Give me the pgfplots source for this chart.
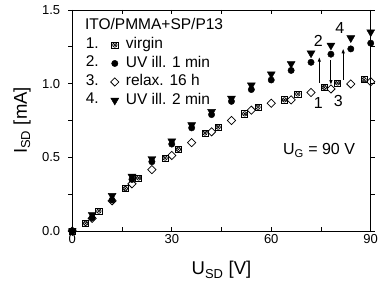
\documentclass[border=0pt]{standalone}
\usepackage{pgfplots}
\pgfplotsset{compat=1.18}
\usepackage{fontspec}
\setmainfont{Liberation Sans}
\usetikzlibrary{arrows.meta}

\pgfdeclareplotmark{boxotimes}{%
  \pgfpathrectangle{\pgfqpoint{-\pgfplotmarksize}{-\pgfplotmarksize}}{\pgfqpoint{2\pgfplotmarksize}{2\pgfplotmarksize}}%
  \pgfusepathqstroke
  \pgfpathcircle{\pgfpointorigin}{0.72\pgfplotmarksize}%
  \pgfusepathqstroke
  \pgfpathmoveto{\pgfqpoint{-0.5\pgfplotmarksize}{-0.5\pgfplotmarksize}}%
  \pgfpathlineto{\pgfqpoint{0.5\pgfplotmarksize}{0.5\pgfplotmarksize}}%
  \pgfpathmoveto{\pgfqpoint{-0.5\pgfplotmarksize}{0.5\pgfplotmarksize}}%
  \pgfpathlineto{\pgfqpoint{0.5\pgfplotmarksize}{-0.5\pgfplotmarksize}}%
  \pgfusepathqstroke
}

\begin{document}
\begin{tikzpicture}
\begin{axis}[
  name=ax,
  scale only axis, width=298.4pt, height=221pt,
  xmin=0, xmax=90, ymin=0, ymax=1.5,
  clip=false,
  xtick={0,30,60,90}, xticklabels={0,30,60,90},
  ytick={0,0.5,1,1.5}, yticklabels={0.0,0.5,1.0,1.5},
  minor xtick={15,45,75}, minor ytick={0.25,0.75,1.25},
  tick align=inside, ytick align=outside,
  major tick length=4pt, minor tick length=4pt,
  tick style={black, line width=0.7pt},
  axis line style={line width=0.8pt},
  tick label style={font=\fontsize{13}{15}\selectfont},
  xticklabel style={inner sep=0pt, yshift=-3pt},
  yticklabel style={inner sep=0pt, xshift=-8pt},
  xlabel={U\textsubscript{SD} [V]},
  ylabel={I\textsubscript{SD} [mA]},
  every axis x label/.style={at={(axis description cs:0.5,-0.199)}, anchor=base, inner sep=0pt, font=\fontsize{18.5}{22}\selectfont},
  every axis y label/.style={at={(axis description cs:-0.152,0.5)}, anchor=base, rotate=90, inner sep=0pt, font=\fontsize{18.5}{22}\selectfont},
  legend style={at={(axis cs:11.58,1.3136)}, anchor=north west, draw=none, fill=none,
    inner sep=0pt, outer sep=0pt, row sep=3.5pt, column sep=7pt,
    font=\fontsize{15.5}{18}\selectfont,
    nodes={inner sep=0pt, text height=11.5pt, text depth=3.5pt}},
  legend cell align=left,
  legend image code/.code={\draw[mark repeat=2,mark phase=2,#1] plot coordinates {(0pt,0pt) (6pt,0pt) (12pt,0pt)};},
]
\addplot[only marks, mark=boxotimes, mark size=3.1pt, line width=0.65pt, black] coordinates {
 (0,0) (4,0.052) (8,0.135) (16,0.288) (20,0.36) (28,0.495) (32,0.554) (40,0.665) (44,0.705)
 (52,0.795) (56,0.84) (64,0.89) (68,0.93) (76,0.975) (80,1.005) (88,1.027)
};
\addlegendentry{virgin}
\addplot[only marks, mark=*, mark size=3.2pt, black] coordinates {
 (0,0) (6,0.09) (12,0.21) (18,0.35) (24,0.47) (30,0.59) (36,0.70) (42,0.79) (48,0.88)
 (54,0.96) (60,1.025) (66,1.09) (72,1.145) (78,1.20) (84,1.236) (90,1.275)
};
\addlegendentry{UV ill. 1 min}
\addplot[only marks, mark=square, mark size=2.9pt, mark options={rotate=45, fill=white}, line width=0.75pt, black] coordinates {
 (0,0) (6,0.086) (12,0.205) (18,0.32) (24,0.417) (30,0.513) (36,0.60) (42,0.673) (48,0.75)
 (54,0.82) (60,0.867) (66,0.89) (72,0.94) (78,0.964) (84,0.998) (90,1.013)
};
\addlegendentry{relax. 16 h}
\addplot[only marks, mark=triangle*, mark size=4.6pt, mark options={rotate=180}, black] coordinates {
 (0,0) (6,0.11) (12,0.24) (18,0.37) (24,0.49) (30,0.61) (36,0.72) (42,0.81) (48,0.90)
 (54,0.99) (60,1.065) (66,1.135) (72,1.207) (78,1.26) (84,1.31) (90,1.35)
};
\addlegendentry{UV ill. 2 min}

\node[anchor=base west, inner sep=0pt, font=\fontsize{15.5}{18}\selectfont] at (axis cs:3.8,1.371) {ITO/PMMA+SP/P13};
\node[anchor=base west, inner sep=0pt, font=\fontsize{15.5}{18}\selectfont] at (axis cs:4.0,1.236) {1.};
\node[anchor=base west, inner sep=0pt, font=\fontsize{15.5}{18}\selectfont] at (axis cs:4.0,1.116) {2.};
\node[anchor=base west, inner sep=0pt, font=\fontsize{15.5}{18}\selectfont] at (axis cs:4.0,0.987) {3.};
\node[anchor=base west, inner sep=0pt, font=\fontsize{15.5}{18}\selectfont] at (axis cs:4.0,0.863) {4.};

\node[anchor=base west, inner sep=0pt, font=\fontsize{16}{19}\selectfont] at (axis cs:63.5,0.516) {U\textsubscript{G} = 90 V};

\draw[-{Latex[length=5pt,width=3.5pt]}, line width=1.1pt] (axis cs:74.5,1.007) -- (axis cs:74.5,1.183);
\draw[-{Latex[length=5pt,width=3.5pt]}, line width=1.1pt] (axis cs:78,1.16) -- (axis cs:78,0.99);
\draw[-{Latex[length=5pt,width=3.5pt]}, line width=1.1pt] (axis cs:81.7,1.025) -- (axis cs:81.7,1.24);

\node[inner sep=0pt, font=\fontsize{16}{19}\selectfont] at (axis cs:74.2,1.292) {2};
\node[inner sep=0pt, font=\fontsize{16}{19}\selectfont] at (axis cs:80.7,1.376) {4};
\node[inner sep=0pt, font=\fontsize{16}{19}\selectfont] at (axis cs:74.2,0.867) {1};
\node[inner sep=0pt, font=\fontsize{16}{19}\selectfont] at (axis cs:80.2,0.885) {3};
\end{axis}
\pgfresetboundingbox
\path ([xshift=-72.3pt,yshift=-52pt]ax.south west) rectangle ([xshift=11.3pt,yshift=10pt]ax.north east);
\end{tikzpicture}
\end{document}
